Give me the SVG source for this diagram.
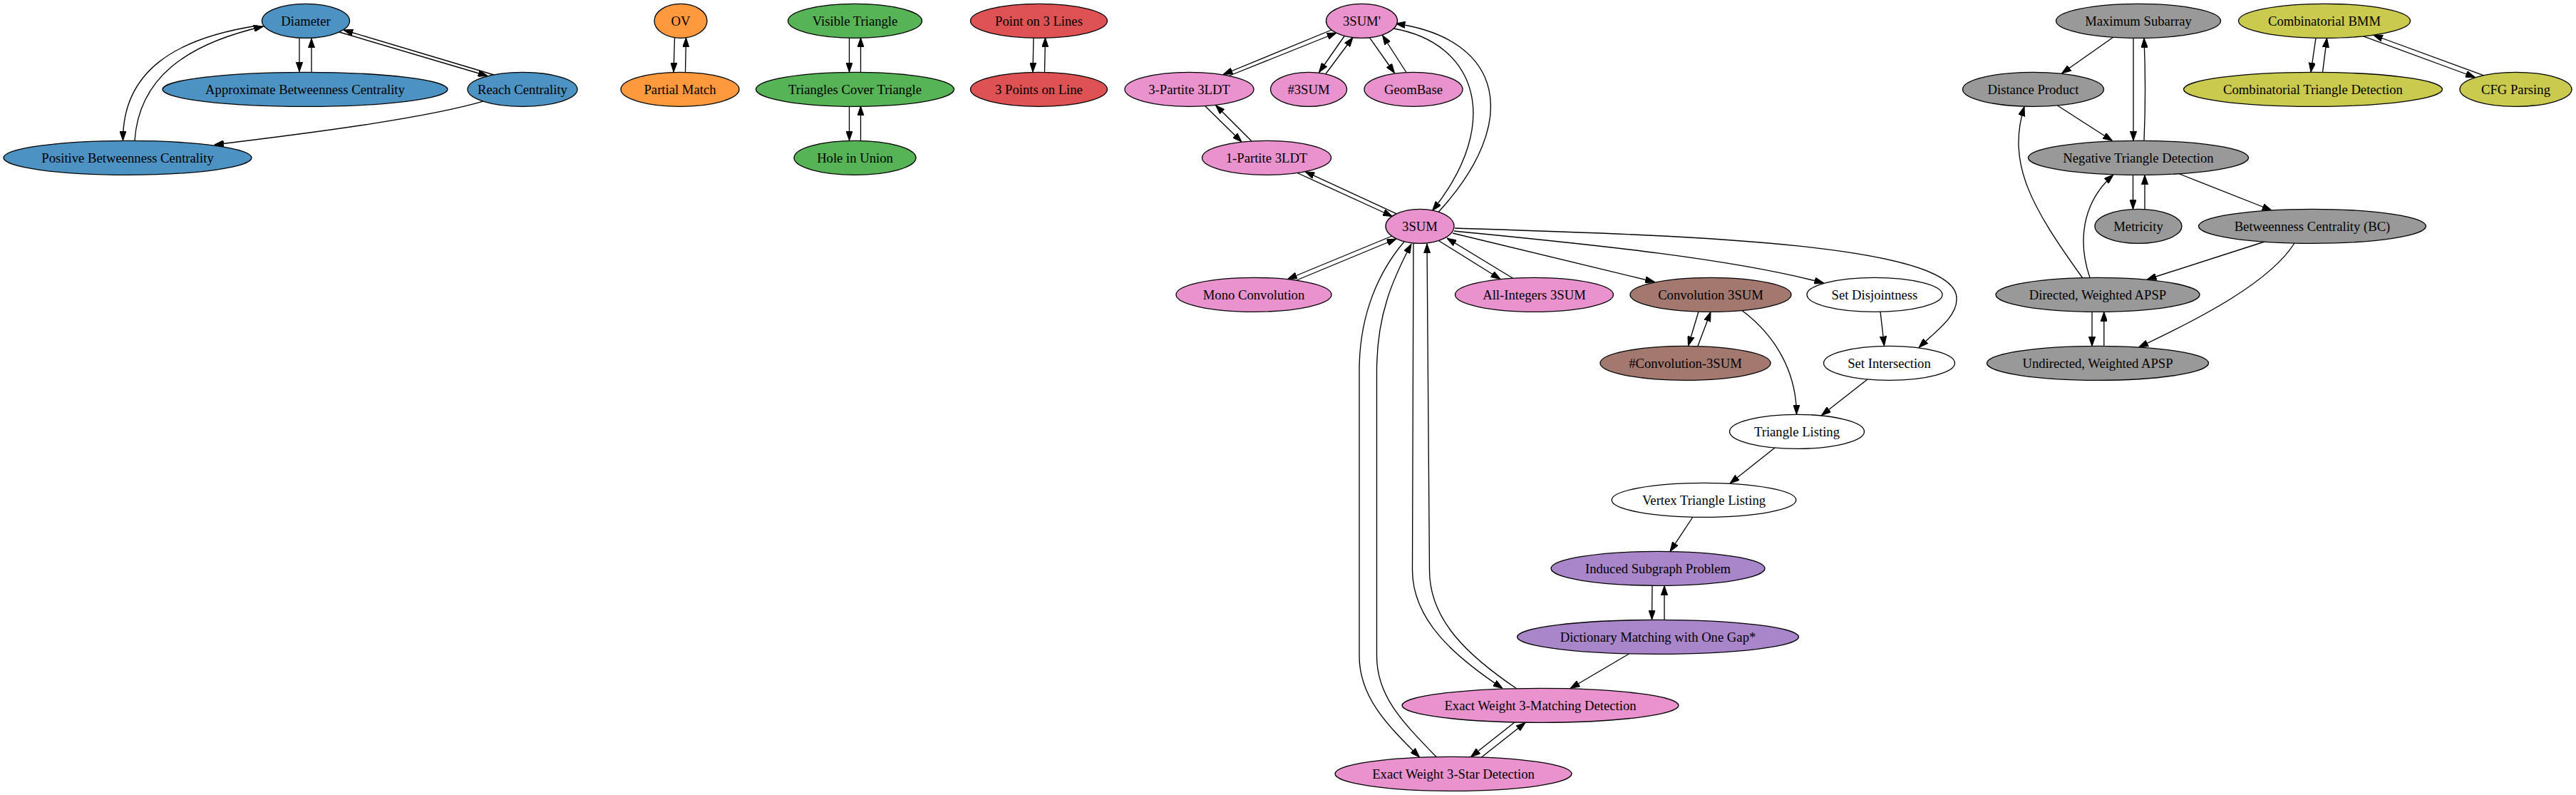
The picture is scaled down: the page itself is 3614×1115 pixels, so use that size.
<svg xmlns="http://www.w3.org/2000/svg" width="3614" height="1115" viewBox="0 0 3614 1115">
<style>
.n ellipse{stroke:#000;stroke-width:1.33}
.n text{font-family:"Liberation Serif","Times New Roman",serif;font-size:18.67px;text-anchor:middle;fill:#000}
.blue ellipse{fill:#4c92c3}.orange ellipse{fill:#ff993e}.green ellipse{fill:#56b356}.red ellipse{fill:#de5253}
.pink ellipse{fill:#e992ce}.brown ellipse{fill:#a3786f}.purple ellipse{fill:#a985ca}.gray ellipse{fill:#999999}
.olive ellipse{fill:#c9ca4e}.white ellipse{fill:#ffffff}
#edges path{fill:none;stroke:#000;stroke-width:1.33;marker-end:url(#ah)}
</style>
<defs>
<marker id="ah" viewBox="0 0 13.33 9.33" refX="13.33" refY="4.67" markerWidth="13.33" markerHeight="9.33" markerUnits="userSpaceOnUse" orient="auto">
<path d="M0,0 L13.33,4.67 L0,9.33 z" fill="#000" stroke="#000" stroke-width="1"/>
</marker>
</defs>
<rect width="3614" height="1115" fill="#fff"/>
<g id="edges">
<path d="M420,53.5 L420,100.5"/>
<path d="M437,101 L437,54"/>
<path d="M476,45 L684,106.5"/>
<path d="M693,105 L482,42"/>
<path d="M361,36 C245,54 172,100 172.5,197"/>
<path d="M189,197 C195,110 260,62 369.5,37"/>
<path d="M679.5,141.7 C600,165 450,185 300.7,203"/>
<path d="M946.5,52.5 L945,101"/>
<path d="M961.5,101 L962.5,53"/>
<path d="M1191.5,53 L1191.5,101"/>
<path d="M1207.5,101 L1207.5,53"/>
<path d="M1191.5,149 L1191.5,197"/>
<path d="M1207.5,197 L1207.5,149"/>
<path d="M1450,53 L1449,101"/>
<path d="M1465.5,101 L1466.5,53"/>
<path d="M1868,42 L1716,104.5"/>
<path d="M1724,106.5 L1875,46"/>
<path d="M1886.5,50 L1850.5,101.5"/>
<path d="M1860,103.5 L1898,52.5"/>
<path d="M1921.5,52.8 L1956.5,102.5"/>
<path d="M1973,101.5 L1939.5,49.5"/>
<path d="M1955,40 C2070,60 2110,170 2009.5,295.5"/>
<path d="M2018,297.5 C2135,170 2110,55 1958,33"/>
<path d="M1690.5,148.6 L1742,199"/>
<path d="M1756,198 L1705.5,147.5"/>
<path d="M1820,242.5 L1953.5,303.5"/>
<path d="M1960.5,300.3 L1831,240.6"/>
<path d="M1953,331 L1806.5,391.5"/>
<path d="M1819,393 L1959,335"/>
<path d="M2019,338 L2105,391.5"/>
<path d="M2122.5,390.2 L2030,334"/>
<path d="M2038,327 L2321.5,395.5"/>
<path d="M2040,324 C2200,340 2420,360 2558.7,397"/>
<path d="M2041,320 C2350,330 2750,340 2745,420 C2745,445 2715,465 2692,487.5"/>
<path d="M2383,437 L2368.5,485"/>
<path d="M2382,485.3 L2400,437.5"/>
<path d="M2444,435.5 C2490,470 2520,520 2520.5,581"/>
<path d="M2638,437 L2643.5,485"/>
<path d="M2620,532 L2555.5,582.5"/>
<path d="M2490,628 L2427,678"/>
<path d="M2375,725 L2343,773.5"/>
<path d="M2318,821.5 L2317.5,869"/>
<path d="M2335,869 L2335,821.5"/>
<path d="M2285.5,917 L2203,965.5"/>
<path d="M1983,341.5 L1981.5,800 C1982,870 2040,920 2108,965.5"/>
<path d="M2128,966 C2060,920 2005.5,870 2005.5,800 L2002,342"/>
<path d="M1970,339 C1935,380 1907,440 1907,520 L1907,920 C1907,980 1950,1020 1991.5,1062"/>
<path d="M2015,1061.5 C1965,1010 1931.5,975 1931.5,920 L1931.5,520 C1931.5,440 1955,390 1980,342"/>
<path d="M2125,1013 L2063.5,1061.5"/>
<path d="M2078.5,1062 L2140,1013.5"/>
<path d="M2965,52 L2892.5,103"/>
<path d="M2993,53.3 L2993,197.3"/>
<path d="M3008,197 C3010,150 3010,100 3008,53.5"/>
<path d="M2886.5,148 L2963.5,197.5"/>
<path d="M2992.5,245.3 L2992.5,293.5"/>
<path d="M3009,293.3 L3009,245.5"/>
<path d="M3056.5,243.5 L3187,295"/>
<path d="M3177,339 L3012,392"/>
<path d="M3219,341 C3185,395 3090,445 3000.5,487"/>
<path d="M2921.5,389.5 C2850,290 2815,230 2840,149.5"/>
<path d="M2932,389.5 C2915,340 2920,285 2965,245"/>
<path d="M2935,437.3 L2935,485.5"/>
<path d="M2951.8,485.3 L2951.8,437.3"/>
<path d="M3249,53.3 L3242,101.3"/>
<path d="M3258.5,101.3 L3264.5,53.3"/>
<path d="M3315,50.7 L3472.5,108.5"/>
<path d="M3484,105.7 L3329.5,49"/>
</g>
<g id="n-diameter" class="n blue"><ellipse cx="429" cy="29.33" rx="61.5" ry="24"/><text x="429" y="35.8">Diameter</text></g>
<g id="n-approxbc" class="n blue"><ellipse cx="428" cy="125.33" rx="200" ry="24"/><text x="428" y="131.8">Approximate Betweenness Centrality</text></g>
<g id="n-reach" class="n blue"><ellipse cx="733" cy="125.33" rx="77" ry="24"/><text x="733" y="131.8">Reach Centrality</text></g>
<g id="n-posbc" class="n blue"><ellipse cx="179" cy="221.33" rx="174" ry="24"/><text x="179" y="227.8">Positive Betweenness Centrality</text></g>
<g id="n-ov" class="n orange"><ellipse cx="955" cy="29.33" rx="37" ry="24"/><text x="955" y="35.8">OV</text></g>
<g id="n-partial" class="n orange"><ellipse cx="954" cy="125.33" rx="83" ry="24"/><text x="954" y="131.8">Partial Match</text></g>
<g id="n-visible" class="n green"><ellipse cx="1199.5" cy="29.33" rx="94" ry="24"/><text x="1199.5" y="35.8">Visible Triangle</text></g>
<g id="n-tct" class="n green"><ellipse cx="1199.5" cy="125.33" rx="139" ry="24"/><text x="1199.5" y="131.8">Triangles Cover Triangle</text></g>
<g id="n-hole" class="n green"><ellipse cx="1199.5" cy="221.33" rx="85.5" ry="24"/><text x="1199.5" y="227.8">Hole in Union</text></g>
<g id="n-p3l" class="n red"><ellipse cx="1457.5" cy="29.33" rx="96" ry="24"/><text x="1457.5" y="35.8">Point on 3 Lines</text></g>
<g id="n-3pl" class="n red"><ellipse cx="1457.5" cy="125.33" rx="96" ry="24"/><text x="1457.5" y="131.8">3 Points on Line</text></g>
<g id="n-3sump" class="n pink"><ellipse cx="1910.5" cy="29.33" rx="50" ry="24"/><text x="1910.5" y="35.8">3SUM'</text></g>
<g id="n-3p3ldt" class="n pink"><ellipse cx="1668.5" cy="125.33" rx="90.5" ry="24"/><text x="1668.5" y="131.8">3-Partite 3LDT</text></g>
<g id="n-count3sum" class="n pink"><ellipse cx="1836" cy="125.33" rx="53.5" ry="24"/><text x="1836" y="131.8">#3SUM</text></g>
<g id="n-geombase" class="n pink"><ellipse cx="1983" cy="125.33" rx="69" ry="24"/><text x="1983" y="131.8">GeomBase</text></g>
<g id="n-1p3ldt" class="n pink"><ellipse cx="1777" cy="221.33" rx="90.5" ry="24"/><text x="1777" y="227.8">1-Partite 3LDT</text></g>
<g id="n-3sum" class="n pink"><ellipse cx="1992" cy="317.33" rx="48" ry="24"/><text x="1992" y="323.8">3SUM</text></g>
<g id="n-mono" class="n pink"><ellipse cx="1759" cy="413.33" rx="109" ry="24"/><text x="1759" y="419.8">Mono Convolution</text></g>
<g id="n-allint" class="n pink"><ellipse cx="2152.5" cy="413.33" rx="111" ry="24"/><text x="2152.5" y="419.8">All-Integers 3SUM</text></g>
<g id="n-conv" class="n brown"><ellipse cx="2400" cy="413.33" rx="113" ry="24"/><text x="2400" y="419.8">Convolution 3SUM</text></g>
<g id="n-setdis" class="n white"><ellipse cx="2630" cy="413.33" rx="95" ry="24"/><text x="2630" y="419.8">Set Disjointness</text></g>
<g id="n-countconv" class="n brown"><ellipse cx="2364.5" cy="509.33" rx="119.5" ry="24"/><text x="2364.5" y="515.8">#Convolution-3SUM</text></g>
<g id="n-setint" class="n white"><ellipse cx="2650.5" cy="509.33" rx="92" ry="24"/><text x="2650.5" y="515.8">Set Intersection</text></g>
<g id="n-trilist" class="n white"><ellipse cx="2521" cy="605.33" rx="94.5" ry="24"/><text x="2521" y="611.8">Triangle Listing</text></g>
<g id="n-vtrilist" class="n white"><ellipse cx="2390.5" cy="701.33" rx="129.3" ry="24"/><text x="2390.5" y="707.8">Vertex Triangle Listing</text></g>
<g id="n-induced" class="n purple"><ellipse cx="2326" cy="797.33" rx="150" ry="24"/><text x="2326" y="803.8">Induced Subgraph Problem</text></g>
<g id="n-dict" class="n purple"><ellipse cx="2326" cy="893.33" rx="197.5" ry="24"/><text x="2326" y="899.8">Dictionary Matching with One Gap*</text></g>
<g id="n-ew3m" class="n pink"><ellipse cx="2161" cy="989.33" rx="194" ry="24"/><text x="2161" y="995.8">Exact Weight 3-Matching Detection</text></g>
<g id="n-ew3s" class="n pink"><ellipse cx="2039" cy="1085.33" rx="166" ry="24"/><text x="2039" y="1091.8">Exact Weight 3-Star Detection</text></g>
<g id="n-maxsub" class="n gray"><ellipse cx="3000" cy="29.33" rx="115.5" ry="24"/><text x="3000" y="35.8">Maximum Subarray</text></g>
<g id="n-distprod" class="n gray"><ellipse cx="2852.5" cy="125.33" rx="99" ry="24"/><text x="2852.5" y="131.8">Distance Product</text></g>
<g id="n-ntd" class="n gray"><ellipse cx="3000" cy="221.33" rx="154.5" ry="24"/><text x="3000" y="227.8">Negative Triangle Detection</text></g>
<g id="n-metricity" class="n gray"><ellipse cx="3000" cy="317.33" rx="61" ry="24"/><text x="3000" y="323.8">Metricity</text></g>
<g id="n-bc" class="n gray"><ellipse cx="3244" cy="317.33" rx="159.5" ry="24"/><text x="3244" y="323.8">Betweenness Centrality (BC)</text></g>
<g id="n-dapsp" class="n gray"><ellipse cx="2943" cy="413.33" rx="143" ry="24"/><text x="2943" y="419.8">Directed, Weighted APSP</text></g>
<g id="n-uapsp" class="n gray"><ellipse cx="2943" cy="509.33" rx="155.5" ry="24"/><text x="2943" y="515.8">Undirected, Weighted APSP</text></g>
<g id="n-cbmm" class="n olive"><ellipse cx="3261" cy="29.33" rx="120.5" ry="24"/><text x="3261" y="35.8">Combinatorial BMM</text></g>
<g id="n-ctd" class="n olive"><ellipse cx="3245" cy="125.33" rx="181.5" ry="24"/><text x="3245" y="131.8">Combinatorial Triangle Detection</text></g>
<g id="n-cfg" class="n olive"><ellipse cx="3529.5" cy="125.33" rx="78.5" ry="24"/><text x="3529.5" y="131.8">CFG Parsing</text></g>
</svg>
